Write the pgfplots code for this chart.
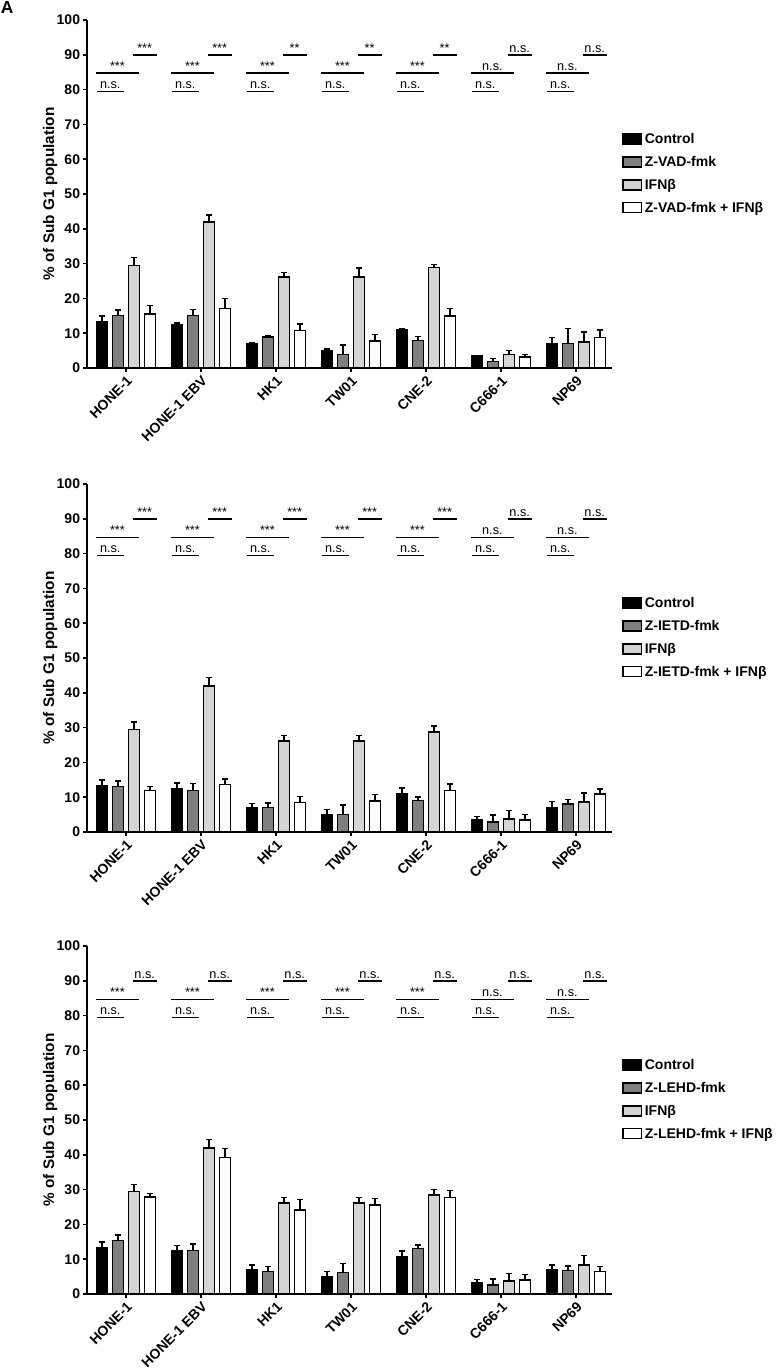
\documentclass[border=0pt]{standalone}
\usepackage{fontspec}
\setmainfont{Liberation Sans}
\usepackage{pgfplots}
\usepackage{pgfplotstable}
\pgfplotsset{compat=1.18}

\pgfplotstableread{
x c ce z ze i ie zi zie
0 13.3 1.6 15.1 1.5 29.5 2.2 15.5 2.4
1 12.5 0.4 15.1 1.7 41.9 2.0 17.1 2.9
2 6.9 0.3 8.9 0.3 26.2 1.3 10.8 1.8
3 5.0 0.4 3.9 2.7 26.2 2.5 7.8 1.9
4 11.1 0.3 7.9 1.1 28.8 1.0 14.9 2.2
5 3.4 0.2 1.8 1.0 3.8 1.3 3.2 0.6
6 7.0 1.7 7.0 4.3 7.5 2.8 8.7 2.2
}\dataVAD

\pgfplotstableread{
x c ce z ze i ie zi zie
0 13.4 1.5 13.0 1.6 29.5 2.1 11.9 1.2
1 12.5 1.6 12.0 1.9 42.0 2.4 13.7 1.5
2 7.0 1.2 7.0 1.3 26.1 1.7 8.5 1.7
3 5.0 1.5 5.0 2.8 26.1 1.7 8.9 1.9
4 10.9 1.7 9.0 1.1 28.7 1.7 12.0 1.8
5 3.4 1.1 2.9 2.0 3.8 2.4 3.4 1.7
6 7.1 1.6 8.0 1.4 8.6 2.6 10.9 1.4
}\dataIETD

\pgfplotstableread{
x c ce z ze i ie zi zie
0 13.3 1.7 15.4 1.5 29.4 2.0 27.9 1.0
1 12.3 1.7 12.5 1.9 41.9 2.5 39.3 2.5
2 6.9 1.4 6.4 1.5 26.1 1.7 24.2 2.9
3 4.9 1.5 6.2 2.6 26.1 1.7 25.6 1.9
4 10.8 1.5 13.1 1.0 28.5 1.6 27.8 1.9
5 3.1 1.1 2.6 1.7 3.75 2.2 4.0 1.6
6 6.9 1.5 6.7 1.4 8.4 2.7 6.5 1.4
}\dataLEHD

\definecolor{dgray}{HTML}{7F7F7F}
\definecolor{lgray}{HTML}{D4D4D4}

\newcommand{\bfont}{\bfseries\fontsize{10.5}{12}\selectfont}
\newcommand{\lfont}{\bfseries\fontsize{10.5}{12}\selectfont}
\newcommand{\yfont}{\bfseries\fontsize{11.5}{13}\selectfont}
\newcommand{\sfont}{\fontsize{9.5}{11}\selectfont}

\newcommand{\sig}[4]{%
  \draw[line width=1.1pt] ([xshift=-21.9pt]axis cs:#1,79.5) -- node[above, font=\sfont, inner sep=1.2pt]{#2} ([xshift=-1.7pt]axis cs:#1,79.5);
  \draw[line width=1.1pt] ([xshift=-22.5pt]axis cs:#1,84.7) -- node[above, font=\sfont, inner sep=1.2pt]{#3} ([xshift=9.6pt]axis cs:#1,84.7);
  \draw[line width=1.1pt] ([xshift=5pt]axis cs:#1,90) -- node[above, font=\sfont, inner sep=1.2pt]{#4} ([xshift=23pt]axis cs:#1,90);
}

\pgfplotsset{
  panel/.style={
    scale only axis, width=393.75pt, height=261pt,
    anchor=south west, clip=false,
    xmin=-0.52, xmax=6.48, ymin=0, ymax=100,
    axis x line*=bottom, axis y line*=left,
    axis line style={line width=1.1pt},
    ybar=3.75pt, bar width=8.25pt,
    xtick={0,...,6},
    xticklabels={HONE-1, HONE-1 EBV, HK1, TW01, CNE-2, C666-1, NP69},
    x tick label style={rotate=45, anchor=north east, font=\bfont, inner sep=1.5pt},
    ytick={0,10,...,100},
    y tick label style={font=\bfont, inner sep=2pt},
    /pgf/number format/assume math mode=true,
    tick align=outside, major tick length=3pt,
    tick style={line width=1.1pt, black},
    ylabel={\% of Sub G1 population},
    ylabel style={font=\yfont, at={(axis description cs:-0.07,0.5)}, anchor=center},
    legend style={at={(1.011,0.69)}, anchor=north west, draw=none, fill=none,
      font=\lfont, row sep=4pt},
    legend cell align=left,
    legend image code/.code={\draw[##1, line width=1.1pt] (0pt,-3.5pt) rectangle (14pt,4pt);},
    error bars/y dir=plus, error bars/y explicit,
    error bars/error bar style={line width=1.1pt, black},
    error bars/error mark options={rotate=90, mark size=2.25pt, line width=1.1pt, black},
  },
  b1/.style={fill=black, draw=black, line width=1.1pt},
  b2/.style={fill=dgray, draw=black, line width=1.1pt},
  b3/.style={fill=lgray, draw=black, line width=1.1pt},
  b4/.style={fill=white, draw=black, line width=1.1pt},
}

\begin{document}
\begin{tikzpicture}
\path[use as bounding box] (0,0) rectangle (583.5pt,1028.25pt);
\node[anchor=north west, font=\bfseries\fontsize{13}{15}\selectfont, inner sep=0pt] at (0.5pt,1027pt) {A};

\begin{axis}[panel, at={(65.25pt,752.25pt)}]
\addplot[b1] table[x=x, y=c, y error=ce]{\dataVAD};
\addplot[b2] table[x=x, y=z, y error=ze]{\dataVAD};
\addplot[b3] table[x=x, y=i, y error=ie]{\dataVAD};
\addplot[b4] table[x=x, y=zi, y error=zie]{\dataVAD};
\legend{Control, Z-VAD-fmk, IFNβ, Z-VAD-fmk + IFNβ}
\sig{0}{n.s.}{***}{***}
\sig{1}{n.s.}{***}{***}
\sig{2}{n.s.}{***}{**}
\sig{3}{n.s.}{***}{**}
\sig{4}{n.s.}{***}{**}
\sig{5}{n.s.}{n.s.}{n.s.}
\sig{6}{n.s.}{n.s.}{n.s.}
\end{axis}

\begin{axis}[panel, at={(65.25pt,404.25pt)}]
\addplot[b1] table[x=x, y=c, y error=ce]{\dataIETD};
\addplot[b2] table[x=x, y=z, y error=ze]{\dataIETD};
\addplot[b3] table[x=x, y=i, y error=ie]{\dataIETD};
\addplot[b4] table[x=x, y=zi, y error=zie]{\dataIETD};
\legend{Control, Z-IETD-fmk, IFNβ, Z-IETD-fmk + IFNβ}
\sig{0}{n.s.}{***}{***}
\sig{1}{n.s.}{***}{***}
\sig{2}{n.s.}{***}{***}
\sig{3}{n.s.}{***}{***}
\sig{4}{n.s.}{***}{***}
\sig{5}{n.s.}{n.s.}{n.s.}
\sig{6}{n.s.}{n.s.}{n.s.}
\end{axis}

\begin{axis}[panel, at={(65.25pt,57.75pt)}]
\addplot[b1] table[x=x, y=c, y error=ce]{\dataLEHD};
\addplot[b2] table[x=x, y=z, y error=ze]{\dataLEHD};
\addplot[b3] table[x=x, y=i, y error=ie]{\dataLEHD};
\addplot[b4] table[x=x, y=zi, y error=zie]{\dataLEHD};
\legend{Control, Z-LEHD-fmk, IFNβ, Z-LEHD-fmk + IFNβ}
\sig{0}{n.s.}{***}{n.s.}
\sig{1}{n.s.}{***}{n.s.}
\sig{2}{n.s.}{***}{n.s.}
\sig{3}{n.s.}{***}{n.s.}
\sig{4}{n.s.}{***}{n.s.}
\sig{5}{n.s.}{n.s.}{n.s.}
\sig{6}{n.s.}{n.s.}{n.s.}
\end{axis}
\end{tikzpicture}
\end{document}
